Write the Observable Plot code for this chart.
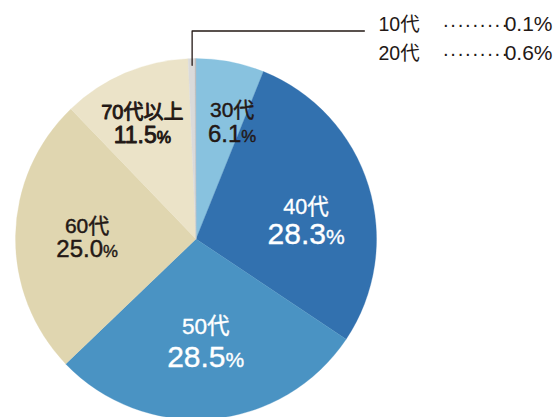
<!DOCTYPE html>
<html>
<head>
<meta charset="utf-8">
<script src="https://cdn.jsdelivr.net/npm/d3@7"></script>
<script src="https://cdn.jsdelivr.net/npm/@observablehq/plot@0.6"></script>
<style>
html, body { margin: 0; padding: 0; background: #fff; }
#chart svg { display: block; }
</style>
</head>
<body>
<div id="chart"></div>
<script>
// ---- data ----
const categories = ["30代", "40代", "50代", "60代", "70代以上", "20代", "10代"];
const shares = [6.1, 28.3, 28.5, 25.0, 11.5, 0.6, 0.1];
const sliceColors = ["#88C2DF", "#3271AF", "#4A93C3", "#E0D6B0", "#EBE3C8", "#DADADA", "#BDBDBD"];
const labeledCategories = ["30代", "40代", "50代", "60代", "70代以上"];
const legendCategories = ["10代", "20代"];

// ---- layout / style ----
const CX = 196, CY = 239, R = 180.5;
const dark = "#231815";
const latin = '"Liberation Sans", "Noto Sans CJK JP", sans-serif';
const labelStyle = {
  "30代":     {turn: 7,    radius: 0.64,  nameSize: 21,   valueSize: 24, up: 12.5, down: 12.5, fill: dark,   sw: 0.45},
  "40代":     {turn: 11.5, radius: 0.61,  nameSize: 21.5, valueSize: 30, up: 15,   down: 15,   fill: "#fff", sw: 0.35},
  "50代":     {turn: 0.3,  radius: 0.616, nameSize: 22.5, valueSize: 30, up: 16.5, down: 16.5, fill: "#fff", sw: 0.35},
  "60代":     {turn: -4.3, radius: 0.607, nameSize: 21,   valueSize: 24, up: 12,   down: 12,   fill: dark,   sw: 0.45},
  "70代以上": {turn: -3.4, radius: 0.67,  nameSize: 20,   valueSize: 23, up: 12,   down: 12,   fill: dark,   sw: 0.9}
};

// ---- derived ----
const slices = categories.map((c, i) => ({category: c, share: shares[i]}));
const arcs = d3.pie().sort(null).value(d => d.share)(slices);
const arcOf = c => arcs.find(a => a.data.category === c);
const fmt = v => v.toFixed(1) + "%";

const labelPoints = labeledCategories.map(c => {
  const a = arcOf(c), s = labelStyle[c];
  const ang = (a.startAngle + a.endAngle) / 2 + s.turn * Math.PI / 180;
  return {category: c, value: fmt(a.data.share), x: s.radius * Math.sin(ang), y: s.radius * Math.cos(ang), s};
});

// leader line from the 20代 / 10代 slices to the note
const small = arcOf("20代");
const la = (small.startAngle + small.endAngle) / 2;
const leader = [
  {x: 0.965 * Math.sin(la), y: 0.965 * Math.cos(la)},
  {x: 0.965 * Math.sin(la), y: 1.155},
  {x: 0.93, y: 1.155}
];

function pieSlices(index, scales) {
  const sx = scales && scales.x ? scales.x : d3.scaleLinear([-1, 1], [CX - R, CX + R]);
  const sy = scales && scales.y ? scales.y : d3.scaleLinear([-1, 1], [CY + R, CY - R]);
  const sc = scales && scales.color ? scales.color : d3.scaleOrdinal(categories, sliceColors);
  const cx = sx(0), cy = sy(0), r = Math.abs(sx(1) - sx(0));
  const arc = d3.arc().innerRadius(0).outerRadius(r);
  const g = d3.create("svg:g").attr("transform", `translate(${cx},${cy})`);
  g.selectAll("path").data(arcs).join("path")
    .attr("d", arc)
    .attr("fill", d => sc(d.data.category))
    .attr("stroke", d => sc(d.data.category))
    .attr("stroke-width", 0.3);
  return g.node();
}

const marks = [
  Plot.dot(slices, {x: () => 0, y: () => 0, fill: "category", r: 1, fillOpacity: 0}),
  pieSlices,
  Plot.line(leader, {x: "x", y: "y", stroke: dark, strokeWidth: 1.3})
];

for (const p of labelPoints) {
  const s = p.s;
  const common = {x: "x", y: "y", lineAnchor: "bottom", fill: s.fill, stroke: s.fill, strokeWidth: s.sw, fontFamily: latin};
  marks.push(Plot.text([p], {...common, text: d => d.category, dy: -s.up, fontSize: s.nameSize}));
  marks.push(Plot.text([p], {...common, text: d => d.value, dy: s.down, fontSize: s.valueSize, ariaDescription: "pct"}));
}

// note at top right
const noteNames = legendCategories.join("\n");
const noteDots = legendCategories.map(() => "·········").join("\n");
const noteVals = legendCategories.map(c => fmt(arcOf(c).data.share)).join("\n");
const noteCommon = {frameAnchor: "top-left", lineAnchor: "bottom", lineHeight: 29.5 / 19, fontSize: 19, fill: dark, dy: 59.5, fontFamily: latin};
marks.push(Plot.text([noteNames], {...noteCommon, text: d => d, dx: 378, textAnchor: "start", fontSize: 19.5, lineHeight: 29.5 / 19.5}));
marks.push(Plot.text([noteDots], {...noteCommon, text: d => d, dx: 442, textAnchor: "start", fontSize: 20, lineHeight: 29.5 / 20, ariaDescription: "dots"}));
marks.push(Plot.text([noteVals], {...noteCommon, text: d => d, dx: 552, textAnchor: "end", fontSize: 21, lineHeight: 29.5 / 21}));

const chart = Plot.plot({
  width: 560,
  height: 417,
  margin: 0,
  x: {domain: [-1, 1], range: [CX - R, CX + R], axis: null},
  y: {domain: [-1, 1], range: [CY + R, CY - R], axis: null},
  color: {domain: categories, range: sliceColors},
  style: {fontFamily: latin, background: "#fff", overflow: "visible"},
  marks
});

// smaller percent sign in the slice labels
d3.select(chart).selectAll('g[aria-description="pct"] text').each(function () {
  const t = this.textContent;
  if (t.endsWith("%")) {
    this.textContent = t.slice(0, -1);
    d3.select(this).append("tspan").attr("font-size", "0.7em").text("%");
  }
});
// spaced leader dots
d3.select(chart).selectAll('g[aria-description="dots"] text').attr("letter-spacing", "0.7");

document.getElementById("chart").appendChild(chart);
</script>
</body>
</html>
